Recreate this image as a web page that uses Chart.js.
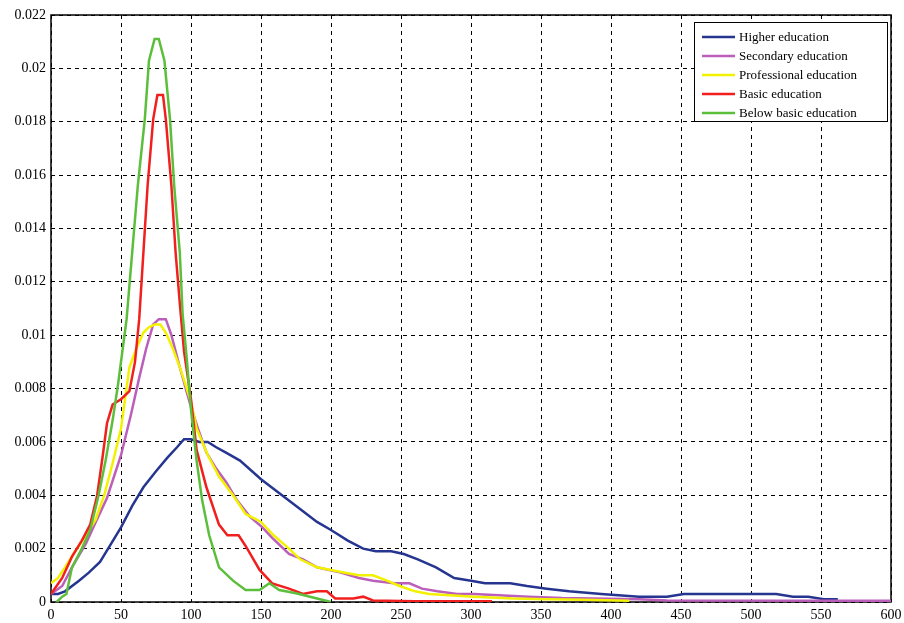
<!DOCTYPE html>
<html>
<head>
<meta charset="utf-8">
<script src="https://cdn.jsdelivr.net/npm/chart.js@4.4.0/dist/chart.umd.min.js"></script>
<style>
html, body { margin: 0; padding: 0; background: #fff; }
</style>
</head>
<body>
<canvas id="chartCanvas" width="904" height="623"></canvas>
<script>
const seriesNames = [
    "Higher education",
    "Secondary education",
    "Professional education",
    "Basic education",
    "Below basic education"
];
const seriesColors = ["#26358f", "#bb5fbb", "#f2f200", "#f21f1f", "#5cbf3c"];

// [x, density] pairs
const higherEdu = [
    [0, 0.0003], [5, 0.0003], [10, 0.0004], [20, 0.0008], [27, 0.0011], [35, 0.0015], [42, 0.0021],
    [50, 0.0028], [58, 0.0036], [66, 0.0043], [75, 0.0049], [83, 0.0054], [90, 0.0058], [95, 0.0061],
    [100, 0.0061], [106, 0.0060], [112, 0.0060], [118, 0.0058], [125, 0.0056], [135, 0.0053],
    [150, 0.0046], [165, 0.0040], [180, 0.0034], [190, 0.0030], [200, 0.0027], [212, 0.0023],
    [223, 0.0020], [232, 0.0019], [243, 0.0019], [252, 0.0018], [262, 0.0016], [275, 0.0013],
    [288, 0.0009], [300, 0.0008], [310, 0.0007], [328, 0.0007], [340, 0.0006], [354, 0.0005],
    [370, 0.0004], [393, 0.0003], [420, 0.0002], [440, 0.0002], [452, 0.0003], [480, 0.0003],
    [518, 0.0003], [530, 0.0002], [541, 0.0002], [552, 0.0001], [562, 0.0001]
];
const secondaryEdu = [
    [0, 0.0003], [8, 0.0006], [15, 0.0013], [25, 0.0022], [32, 0.0030], [40, 0.0039], [50, 0.0055],
    [57, 0.0070], [63, 0.0084], [68, 0.0095], [73, 0.0104], [77, 0.0106], [82, 0.0106], [86, 0.0100],
    [92, 0.0088], [100, 0.0073], [105, 0.0065], [111, 0.0056], [118, 0.0050], [125, 0.0045],
    [133, 0.0038], [142, 0.0032], [151, 0.0028], [158, 0.0024], [170, 0.0018], [180, 0.0016],
    [190, 0.0013], [207, 0.0011], [220, 0.0009], [230, 0.0008], [245, 0.0007], [256, 0.0007],
    [265, 0.0005], [276, 0.0004], [290, 0.0003], [302, 0.0003], [320, 0.00025], [341, 0.0002],
    [365, 0.00015], [387, 0.00013], [420, 0.0001], [440, 0.00006], [600, 0.00005]
];
const professionalEdu = [
    [0, 0.0007], [5, 0.0009], [10, 0.0013], [16, 0.0018], [25, 0.0025], [32, 0.0031], [38, 0.0040],
    [44, 0.0052], [50, 0.0065], [56, 0.0088], [61, 0.0095], [66, 0.0101], [70, 0.0103], [74, 0.0104],
    [78, 0.0104], [82, 0.0101], [87, 0.0095], [92, 0.0088], [97, 0.0080], [100, 0.0075],
    [104, 0.0065], [112, 0.0055], [120, 0.0047], [130, 0.0040], [139, 0.0033], [150, 0.0030],
    [159, 0.0025], [170, 0.0020], [178, 0.0016], [190, 0.0013], [200, 0.0012], [210, 0.0011],
    [220, 0.0010], [230, 0.0010], [240, 0.0008], [249, 0.0006], [260, 0.0004], [270, 0.0003],
    [285, 0.00025], [302, 0.0002], [330, 0.00013], [354, 0.0001], [380, 0.00008], [413, 0.00005]
];
const basicEdu = [
    [0, 0.0003], [8, 0.0009], [15, 0.0017], [22, 0.0023], [28, 0.0029], [33, 0.0040], [37, 0.0055],
    [40, 0.0067], [44, 0.0074], [50, 0.0076], [56, 0.0079], [60, 0.0090], [63, 0.0106], [66, 0.0131],
    [69, 0.0156], [73, 0.0181], [76, 0.0190], [80, 0.0190], [82, 0.0181], [86, 0.0156], [89, 0.0131],
    [92, 0.0112], [95, 0.0094], [100, 0.0076], [104, 0.0057], [111, 0.0043], [120, 0.0029],
    [126, 0.0025], [134, 0.0025], [139, 0.0021], [149, 0.0012], [158, 0.0007], [170, 0.0005],
    [180, 0.0003], [190, 0.0004], [197, 0.0004], [203, 0.00013], [216, 0.00013], [223, 0.0002],
    [230, 0.00006], [260, 0.00003], [315, 0.00003]
];
const belowBasicEdu = [
    [4, 0], [8, 0.0002], [11, 0.0003], [15, 0.0013], [22, 0.0020], [28, 0.0027], [34, 0.0040],
    [39, 0.0053], [44, 0.0068], [48, 0.0082], [52, 0.0098], [54, 0.0106], [58, 0.0131], [62, 0.0156],
    [67, 0.0181], [70, 0.0203], [74, 0.0211], [77, 0.0211], [81, 0.0203], [85, 0.0181], [88, 0.0156],
    [92, 0.0131], [94, 0.0108], [97, 0.0091], [100, 0.0072], [104, 0.0053], [108, 0.0038],
    [113, 0.0025], [120, 0.0013], [130, 0.0008], [139, 0.00045], [149, 0.00045], [156, 0.0007],
    [163, 0.00045], [175, 0.00033], [185, 0.0002], [190, 0.00013], [200, 0]
];

const allSeries = [higherEdu, secondaryEdu, professionalEdu, basicEdu, belowBasicEdu];

const serifFont = "'Liberation Serif', 'DejaVu Serif', serif";

// solid frame round the plot, drawn under the curves
const framePlugin = {
    id: "frame",
    beforeDatasetsDraw(chart) {
        const { ctx, chartArea: a } = chart;
        ctx.save();
        ctx.strokeStyle = "#000";
        ctx.lineWidth = 1.5;
        ctx.strokeRect(a.left, a.top, a.right - a.left, a.bottom - a.top);
        ctx.restore();
    }
};

// boxed legend inside the plot, top right
const boxLegend = {
    id: "boxLegend",
    afterDatasetsDraw(chart) {
        const ctx = chart.ctx;
        const left = 694, top = 22, w = 193, h = 99;
        ctx.save();
        ctx.fillStyle = "#fff";
        ctx.fillRect(left, top, w, h);
        ctx.strokeStyle = "#000";
        ctx.lineWidth = 1;
        ctx.strokeRect(left + 0.5, top + 0.5, w, h);
        ctx.font = "13px " + serifFont;
        ctx.textBaseline = "middle";
        chart.data.datasets.forEach((ds, i) => {
            const y = 37 + i * 19;
            ctx.strokeStyle = ds.borderColor;
            ctx.lineWidth = 2.5;
            ctx.beginPath();
            ctx.moveTo(702, y);
            ctx.lineTo(735, y);
            ctx.stroke();
            ctx.fillStyle = "#000";
            ctx.fillText(ds.label, 739, y + 1);
        });
        ctx.restore();
    }
};

const ctx = document.getElementById("chartCanvas").getContext("2d");

const chart = new Chart(ctx, {
    type: "line",
    data: {
        datasets: seriesNames.map((name, i) => ({
            label: name,
            data: allSeries[i].map(p => ({ x: p[0], y: p[1] })),
            borderColor: seriesColors[i],
            borderWidth: 2.5,
            pointRadius: 0,
            tension: 0,
            fill: false,
            order: seriesNames.length - i
        }))
    },
    options: {
        responsive: false,
        animation: false,
        layout: { padding: { left: 0, top: 15, right: 13, bottom: 0 } },
        plugins: {
            legend: { display: false },
            tooltip: { enabled: false }
        },
        scales: {
            x: {
                type: "linear",
                min: 0,
                max: 600,
                afterFit: s => { s.height = 21; s.paddingLeft = 0; s.paddingRight = 0; },
                ticks: {
                    stepSize: 50,
                    color: "#000",
                    padding: 5,
                    maxRotation: 0,
                    font: { family: serifFont, size: 14 }
                },
                grid: { color: "#000", lineWidth: 1, drawTicks: false },
                border: { display: false, dash: [4, 4] }
            },
            y: {
                min: 0,
                max: 0.022,
                afterFit: s => { s.width = 51; s.paddingTop = 0; s.paddingBottom = 0; },
                ticks: {
                    stepSize: 0.002,
                    color: "#000",
                    padding: 5,
                    font: { family: serifFont, size: 14 },
                    callback: v => String(+v.toFixed(3))
                },
                grid: { color: "#000", lineWidth: 1, drawTicks: false },
                border: { display: false, dash: [4, 4] }
            }
        }
    },
    plugins: [framePlugin, boxLegend]
});
</script>
</body>
</html>
